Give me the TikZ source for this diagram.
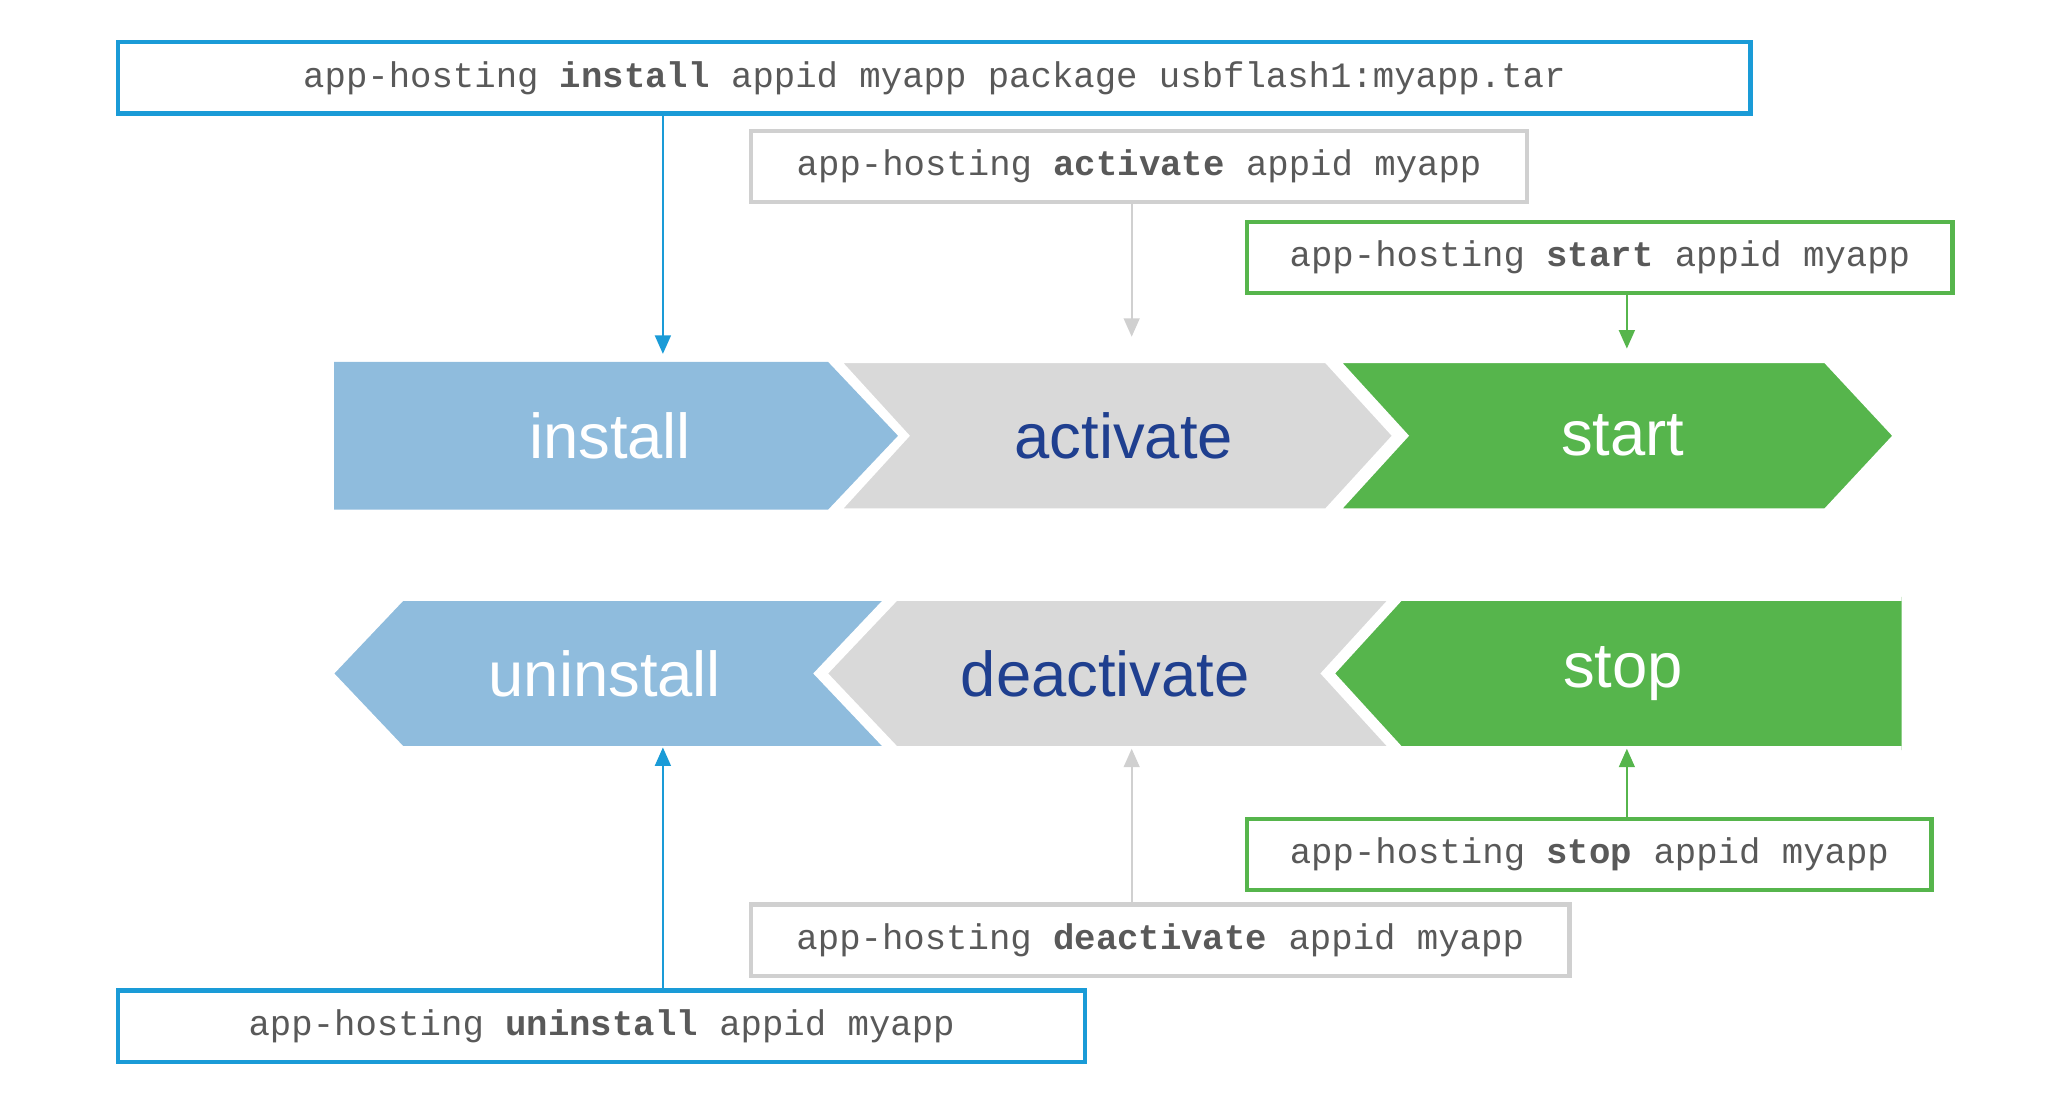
\documentclass[tikz,border=0pt]{standalone}
\usepackage{fontspec}
\setmainfont{Liberation Sans}
\newfontfamily\cmdfont{Liberation Mono}
\usetikzlibrary{arrows.meta}
\definecolor{ciscoblue}{HTML}{1A9BD7}
\definecolor{lightblue}{HTML}{8FBCDD}
\definecolor{lightgray}{HTML}{D9D9D9}
\definecolor{boxgray}{HTML}{D0D0D0}
\definecolor{stepgreen}{HTML}{56B54C}
\definecolor{darkblue}{HTML}{1F3F8F}
\definecolor{cmdgray}{HTML}{595959}
\tikzset{
  cmd/.style={draw, line width=1.6pt, fill=white, text=cmdgray, font=\cmdfont\fontsize{13.5}{15}\selectfont,
    minimum height=27pt, inner xsep=9pt, anchor=west, align=left},
  phase/.style={font=\fontsize{24}{28}\selectfont},
  chev/.style={draw=white, line width=3pt},
  link/.style={line width=0.8pt, -{Triangle[length=7pt,width=6pt]}}
}
\begin{document}
\begin{tikzpicture}[x=0.5pt,y=-0.5pt]
    \useasboundingbox (0,0) rectangle (1560,836);
    % forward chain
    \fill[lightblue] (253,274) -- (627,274) -- (680,330) -- (627,386) -- (253,386) -- cycle;
    \draw[chev,fill=lightgray] (632,272) -- (1005,272) -- (1058,330) -- (1005,388) -- (632,388) -- (685,330) -- cycle;
    \draw[chev,fill=stepgreen] (1010,272) -- (1383,272) -- (1437,330) -- (1383,388) -- (1010,388) -- (1063,330) -- cycle;
    \node[phase,text=white] (install) at (462,330) {install};
    \node[phase,text=darkblue] (activate) at (851,330) {activate};
    \node[phase,text=white] (start) at (1229,330) {start};
    % backward chain
    \fill[stepgreen] (1438,454) -- (1060,454) -- (1007,510) -- (1060,566) -- (1438,566) -- cycle;
    \draw[chev,fill=lightblue] (675,452) -- (304,452) -- (249,510) -- (304,568) -- (675,568) -- (620,510) -- cycle;
    \draw[chev,fill=lightgray] (1057,452) -- (678,452) -- (623,510) -- (678,568) -- (1057,568) -- (1004,510) -- cycle;
    \draw[chev,fill=stepgreen] (1440,452) -- (1060,452) -- (1007,510) -- (1060,568) -- (1440,568);
    \node[phase,text=white] (uninstall) at (458,510) {uninstall};
    \node[phase,text=darkblue] (deactivate) at (837,510) {deactivate};
    \node[phase,text=white] (stop) at (1229,510) {stop};

    % commands
    \node[cmd,draw=ciscoblue,minimum width=618pt] (c-install) at (88,59)
        {app-hosting \textbf{install} appid myapp package usbflash1:myapp.tar};
    \node[cmd,draw=boxgray,minimum width=294pt] (c-activate) at (567,126)
        {app-hosting \textbf{activate} appid myapp};
    \node[cmd,draw=stepgreen,minimum width=267pt] (c-start) at (943,195)
        {app-hosting \textbf{start} appid myapp};
    \node[cmd,draw=stepgreen,minimum width=259pt] (c-stop) at (943,647)
        {app-hosting \textbf{stop} appid myapp};
    \node[cmd,draw=boxgray,minimum width=310pt] (c-deactivate) at (567,712)
        {app-hosting \textbf{deactivate} appid myapp};
    \node[cmd,draw=ciscoblue,minimum width=366pt] (c-uninstall) at (88,777)
        {app-hosting \textbf{uninstall} appid myapp};

    \coordinate (in-install) at (502,268);
    \coordinate (in-activate) at (857,255);
    \coordinate (in-start) at (1232,264);
    \coordinate (in-uninstall) at (502,566);
    \coordinate (in-deactivate) at (857,567);
    \coordinate (in-stop) at (1232,567);

    \draw[link,ciscoblue] (c-install.south -| in-install) -- (in-install);
    \draw[link,boxgray] (c-activate.south -| in-activate) -- (in-activate);
    \draw[link,stepgreen] (c-start.south -| in-start) -- (in-start);
    \draw[link,stepgreen] (c-stop.north -| in-stop) -- (in-stop);
    \draw[link,boxgray] (c-deactivate.north -| in-deactivate) -- (in-deactivate);
    \draw[link,ciscoblue] (c-uninstall.north -| in-uninstall) -- (in-uninstall);
\end{tikzpicture}
\end{document}
